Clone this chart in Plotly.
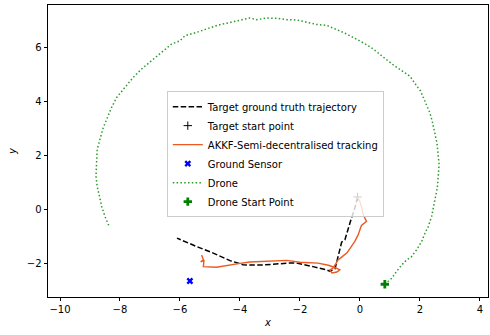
import plotly.graph_objects as go

# Target ground truth trajectory
truth_x = [-0.08, -0.17, -0.3, -0.4, -0.5, -0.61, -0.67, -0.73, -0.78, -0.83, -1.0, -1.11, -1.56, -2.11, -2.4, -3.0, -3.22, -3.67, -3.9, -4.33, -4.89, -5.44, -6.1]
truth_y = [0.47, 0.05, -0.37, -0.74, -1.11, -1.2, -1.45, -1.7, -1.9, -2.18, -2.27, -2.22, -2.1, -1.97, -1.97, -2.04, -2.04, -2.04, -2.03, -1.88, -1.6, -1.36, -1.05]

target_start_x = [-0.08]
target_start_y = [0.47]

# AKKF semi-decentralised tracking estimate
track_x = [-0.08, 0.0, 0.06, 0.11, 0.22, 0.15, 0.05, 0.0, -0.06, -0.17, -0.22, -0.27, -0.43, -0.6, -0.73, -0.83, -0.9, -1.0, -0.93, -0.77, -0.67, -0.8, -1.05, -1.4, -2.0, -2.44, -3.1, -3.67, -4.0, -4.33, -4.78, -5.22, -5.2, -5.31, -5.22, -5.28]
track_y = [0.47, 0.3, 0.07, -0.19, -0.43, -0.5, -0.58, -0.74, -0.93, -1.17, -1.25, -1.37, -1.59, -1.74, -1.85, -2.04, -2.15, -2.22, -2.33, -2.3, -2.22, -2.15, -2.05, -1.97, -1.94, -1.87, -1.91, -1.93, -1.98, -2.04, -2.12, -2.1, -1.88, -1.92, -1.85, -1.67]

# Ground sensor
sensor_x = [-5.67]
sensor_y = [-2.63]

# Drone path
drone_x = [0.83, 1.06, 1.22, 1.39, 1.56, 1.72, 1.89, 2.06, 2.17, 2.28, 2.39, 2.44, 2.52, 2.58, 2.61, 2.64,
           2.6, 2.57, 2.52, 2.47, 2.41, 2.33, 2.22, 2.13, 2.02, 1.89, 1.78, 1.67, 1.5, 1.33, 1.1, 0.89,
           0.6, 0.44, 0.2, 0.0, -0.3, -0.56, -0.85, -1.11, -1.44, -1.78, -2.11, -2.44, -2.78, -3.11,
           -3.44, -3.67, -4.06, -4.39, -4.72, -5.11, -5.44, -5.83, -6.0, -6.28, -6.56, -6.94, -7.28,
           -7.56, -7.89, -8.11, -8.28, -8.44, -8.56, -8.67, -8.76, -8.78, -8.8, -8.76, -8.69, -8.61,
           -8.5, -8.36]
drone_y = [-2.75, -2.53, -2.28, -2.04, -1.85, -1.73, -1.48, -1.17, -0.86, -0.62, -0.25, 0.06, 0.43, 0.8, 1.23, 1.67,
           2.1, 2.45, 2.7, 3.0, 3.27, 3.58, 3.89, 4.14, 4.38, 4.57, 4.75, 4.92, 5.05, 5.17, 5.35, 5.53,
           5.8, 5.93, 6.1, 6.23, 6.4, 6.54, 6.68, 6.8, 6.83, 6.91, 7.0, 7.01, 7.06, 7.07,
           7.01, 7.07, 6.98, 6.89, 6.81, 6.67, 6.54, 6.42, 6.23, 6.11, 5.86, 5.49, 5.19,
           4.88, 4.44, 4.14, 3.77, 3.33, 3.02, 2.59, 2.22, 1.73, 1.23, 0.86, 0.49, 0.12,
           -0.25, -0.62]

drone_start_x = [0.83]
drone_start_y = [-2.75]

x_ticks = [-10, -8, -6, -4, -2, 0, 2, 4]
y_ticks = [-2, 0, 2, 4, 6]

fig = go.Figure()
fig.add_trace(go.Scatter(x=truth_x, y=truth_y, mode="lines", name="Target ground truth trajectory",
                         line=dict(color="black", width=1.5, dash="5.5px,2.4px")))
fig.add_trace(go.Scatter(x=target_start_x, y=target_start_y, mode="markers", name="Target start point",
                         marker=dict(symbol="cross-thin", size=6, color="black",
                                     line=dict(color="black", width=1))))
fig.add_trace(go.Scatter(x=track_x, y=track_y, mode="lines", name="AKKF-Semi-decentralised tracking",
                         line=dict(color="#ec5a22", width=1.4)))
fig.add_trace(go.Scatter(x=sensor_x, y=sensor_y, mode="markers", name="Ground Sensor",
                         marker=dict(symbol="x", size=6, color="blue", line=dict(width=0))))
fig.add_trace(go.Scatter(x=drone_x, y=drone_y, mode="lines", name="Drone",
                         line=dict(color="#2a9a2a", width=1.5, dash="1.5px,2.3px")))
fig.add_trace(go.Scatter(x=drone_start_x, y=drone_start_y, mode="markers", name="Drone Start Point",
                         marker=dict(symbol="cross", size=7, color="green", line=dict(width=0))))

fig.update_layout(
    width=490, height=335,
    margin=dict(l=48, r=2, t=5, b=38),
    paper_bgcolor="white", plot_bgcolor="white",
    font=dict(family="DejaVu Sans", size=10, color="black"),
    showlegend=True,
    legend=dict(x=0.27, y=0.705, xanchor="left", yanchor="top",
                bgcolor="rgba(255,255,255,0.8)", bordercolor="#cccccc", borderwidth=1,
                font=dict(size=10), itemwidth=30, tracegroupgap=0),
)
fig.update_xaxes(range=[-10.4, 4.27], tickvals=x_ticks, ticks="outside", ticklen=3.5, tickwidth=0.8,
                 tickcolor="black", showline=True, linecolor="black", linewidth=0.8, mirror=True,
                 showgrid=False, zeroline=False, tickfont=dict(size=10),
                 title=dict(text="<i>x</i>", standoff=4, font=dict(size=10)))
fig.update_yaxes(range=[-3.22, 7.55], tickvals=y_ticks, ticks="outside", ticklen=3.5, tickwidth=0.8,
                 tickcolor="black", showline=True, linecolor="black", linewidth=0.8, mirror=True,
                 showgrid=False, zeroline=False, tickfont=dict(size=10),
                 title=dict(text="<i>y</i>", standoff=8, font=dict(size=10)))

fig.write_html("out.html")
